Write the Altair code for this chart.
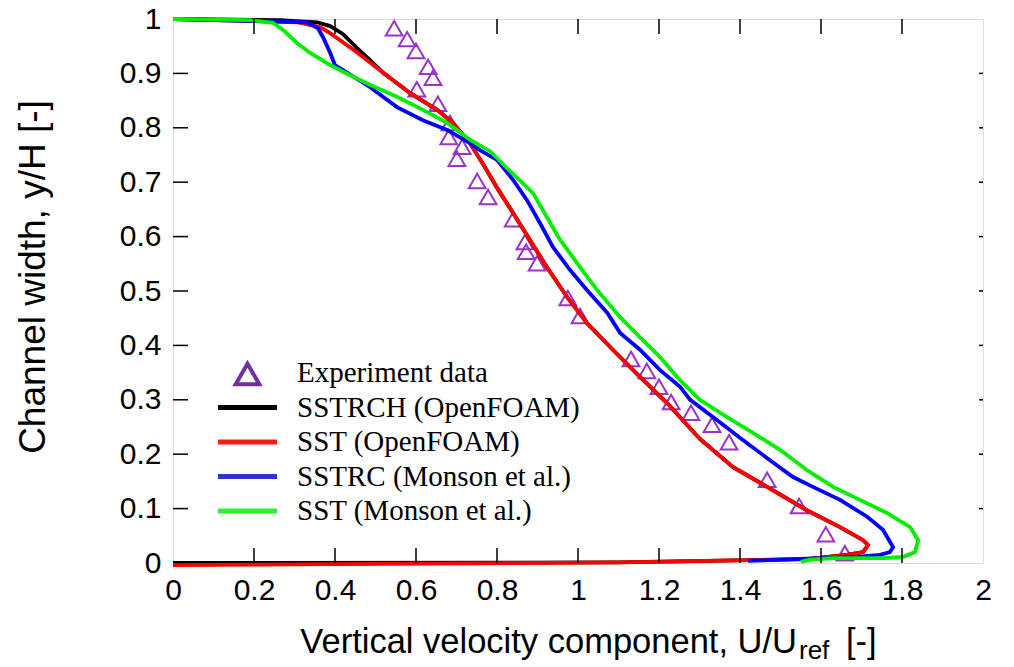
import altair as alt
import pandas as pd

# ---------------- data ----------------
exp_x = [0.546, 0.578, 0.600, 0.630, 0.642, 0.602, 0.654, 0.684, 0.681, 0.714, 0.701,
         0.751, 0.778, 0.840, 0.869, 0.872, 0.899, 0.975, 1.005, 1.131, 1.170, 1.200,
         1.230, 1.279, 1.331, 1.373, 1.467, 1.546, 1.612, 1.659]
exp_y = [0.983, 0.963, 0.941, 0.912, 0.892, 0.871, 0.844, 0.809, 0.783, 0.765, 0.743,
         0.702, 0.673, 0.632, 0.590, 0.572, 0.551, 0.487, 0.454, 0.375, 0.353, 0.324,
         0.296, 0.276, 0.254, 0.222, 0.153, 0.105, 0.053, 0.018]

sst_of_x = [0.0, 0.306, 0.363, 0.388, 0.454, 0.519, 0.585, 0.652, 0.691, 0.733, 0.770,
            0.800, 0.840, 0.881, 0.923, 0.973, 1.022, 1.086, 1.153, 1.220, 1.301,
            1.383, 1.467, 1.565, 1.647, 1.704, 1.716, 1.704, 1.664, 1.565, 1.10, 0.0]
sst_of_y = [1.0, 0.994, 0.985, 0.974, 0.939, 0.901, 0.864, 0.833, 0.809, 0.772, 0.728,
            0.690, 0.643, 0.594, 0.544, 0.489, 0.441, 0.392, 0.342, 0.294, 0.228,
            0.176, 0.140, 0.097, 0.066, 0.042, 0.033, 0.020, 0.015, 0.007, 0.001, -0.004]

sstrch_x = [0.0, 0.264, 0.356, 0.388, 0.420, 0.454, 0.486, 0.519, 0.585, 0.652, 0.691,
            0.733, 0.770, 0.800, 0.840, 0.881, 0.923, 0.973, 1.022, 1.086, 1.153, 1.220,
            1.301, 1.383, 1.467, 1.565, 1.647, 1.704, 1.716, 1.704, 1.664, 1.565,
            1.10, 0.0]
sstrch_y = [1.0, 0.998, 0.994, 0.987, 0.972, 0.947, 0.925, 0.901, 0.864, 0.833, 0.809,
            0.772, 0.728, 0.690, 0.643, 0.594, 0.544, 0.489, 0.441, 0.392, 0.342, 0.294,
            0.228, 0.176, 0.140, 0.097, 0.066, 0.042, 0.033, 0.020, 0.015, 0.007,
            0.001, 0.0]

sstrc_x = [0.0, 0.331, 0.358, 0.370, 0.388, 0.400, 0.420, 0.486, 0.553, 0.617, 0.677,
           0.733, 0.758, 0.800, 0.840, 0.874, 0.906, 0.938, 0.980, 1.022, 1.072, 1.104,
           1.153, 1.202, 1.252, 1.277, 1.343, 1.407, 1.474, 1.531, 1.580, 1.647, 1.714,
           1.753, 1.778, 1.770, 1.746, 1.689, 1.598, 1.42]
sstrc_y = [1.0, 0.994, 0.983, 0.967, 0.938, 0.915, 0.906, 0.875, 0.838, 0.814, 0.796,
           0.772, 0.759, 0.741, 0.704, 0.667, 0.625, 0.581, 0.539, 0.502, 0.460, 0.423,
           0.392, 0.355, 0.324, 0.300, 0.263, 0.226, 0.189, 0.158, 0.140, 0.116, 0.085,
           0.061, 0.029, 0.020, 0.015, 0.011, 0.009, 0.004]

sst_mo_x = [0.0, 0.190, 0.247, 0.272, 0.306, 0.338, 0.380, 0.420, 0.486, 0.553, 0.617,
            0.677, 0.733, 0.783, 0.830, 0.889, 0.923, 0.956, 1.005, 1.047, 1.104, 1.153,
            1.202, 1.252, 1.301, 1.368, 1.432, 1.499, 1.565, 1.630, 1.696, 1.763, 1.820,
            1.840, 1.832, 1.802, 1.753, 1.630, 1.573, 1.55]
sst_mo_y = [1.0, 0.998, 0.993, 0.980, 0.956, 0.938, 0.919, 0.903, 0.879, 0.857, 0.833,
            0.809, 0.778, 0.757, 0.722, 0.680, 0.636, 0.594, 0.544, 0.502, 0.452, 0.415,
            0.379, 0.336, 0.300, 0.268, 0.239, 0.208, 0.171, 0.140, 0.116, 0.092, 0.066,
            0.042, 0.020, 0.011, 0.009, 0.009, 0.006, 0.002]

x_ticks = [0, 0.2, 0.4, 0.6, 0.8, 1, 1.2, 1.4, 1.6, 1.8, 2]
y_ticks = [0, 0.1, 0.2, 0.3, 0.4, 0.5, 0.6, 0.7, 0.8, 0.9, 1]

legend_labels = ["Experiment data", "SSTRCH (OpenFOAM)", "SST (OpenFOAM)",
                 "SSTRC (Monson et al.)", "SST (Monson et al.)"]
line_colors = ["#000000", "#ff0000", "#0000ff", "#00ee00"]
legend_line_colors = ["#000000", "#ff1a1a", "#3333cc", "#33ee33"]

# ---------------- chart ----------------
W, H = 810, 544
SANS = "Liberation Sans"
SERIF = "Liberation Serif"

xs = alt.Scale(domain=[0, 2], nice=False, zero=False)
ys = alt.Scale(domain=[0, 1], nice=False, zero=False)
xa = alt.Axis(values=x_ticks, format="~g", title=None, ticks=False, domain=False, grid=False,
              labelFont=SANS, labelFontSize=30, labelColor="black", labelPadding=12,
              labelFlush=False, labelOverlap=False)
ya = alt.Axis(values=y_ticks, format="~g", title=None, ticks=False, domain=False, grid=False,
              labelFont=SANS, labelFontSize=30, labelColor="black", labelPadding=12,
              labelFlush=False, labelOverlap=False)

exp_df = pd.DataFrame({"x": exp_x, "y": exp_y})
points = alt.Chart(exp_df).mark_point(
    shape="triangle-up", filled=False, size=280, strokeWidth=2, color="#9933cc", opacity=1
).encode(x=alt.X("x:Q", scale=xs, axis=xa), y=alt.Y("y:Q", scale=ys, axis=ya))

series = [(sstrch_x, sstrch_y), (sst_of_x, sst_of_y), (sstrc_x, sstrc_y), (sst_mo_x, sst_mo_y)]
lines = []
for (sx, sy), col in zip(series, line_colors):
    df = pd.DataFrame({"x": sx, "y": sy, "i": list(range(len(sx)))})
    lines.append(
        alt.Chart(df).mark_line(color=col, strokeWidth=3.8, clip=False).encode(
            x=alt.X("x:Q", scale=xs, axis=xa),
            y=alt.Y("y:Q", scale=ys, axis=ya),
            order=alt.Order("i:Q"),
        )
    )

xt_df = pd.DataFrame({"x": x_ticks[1:-1]})
yt_df = pd.DataFrame({"y": y_ticks[1:-1]})
tick_style = dict(color="black", strokeWidth=1.5)
ticks_bottom = alt.Chart(xt_df).mark_rule(**tick_style).encode(
    x=alt.X("x:Q", scale=xs, axis=xa), y=alt.value(H), y2=alt.value(H - 15))
ticks_top = alt.Chart(xt_df).mark_rule(**tick_style).encode(
    x=alt.X("x:Q", scale=xs, axis=xa), y=alt.value(0), y2=alt.value(15))
ticks_left = alt.Chart(yt_df).mark_rule(**tick_style).encode(
    y=alt.Y("y:Q", scale=ys, axis=ya), x=alt.value(0), x2=alt.value(15))
ticks_right = alt.Chart(yt_df).mark_rule(**tick_style).encode(
    y=alt.Y("y:Q", scale=ys, axis=ya), x=alt.value(W), x2=alt.value(W - 4))

# legend (drawn manually, gnuplot style)
lx0, lx1, ltx, ly0, ldy = 45, 104, 124, 354, 34.5
one = pd.DataFrame({"a": [0]})
legend_layers = [
    alt.Chart(one).mark_point(shape="triangle-up", filled=False, size=560, strokeWidth=4,
                              color="#7030a0", opacity=1).encode(
        x=alt.value((lx0 + lx1) / 2), y=alt.value(ly0 + 1))
]
for k, col in enumerate(legend_line_colors):
    yy = ly0 + ldy * (k + 1)
    legend_layers.append(
        alt.Chart(one).mark_rule(color=col, strokeWidth=5).encode(
            x=alt.value(lx0), x2=alt.value(lx1), y=alt.value(yy)))
for k, lab in enumerate(legend_labels):
    yy = ly0 + ldy * k
    legend_layers.append(
        alt.Chart(pd.DataFrame({"t": [lab]})).mark_text(
            font=SERIF, fontSize=29, align="left", baseline="middle", color="black").encode(
            text="t:N", x=alt.value(ltx), y=alt.value(yy)))

# axis titles as text (with subscript)
titles = [
    alt.Chart(pd.DataFrame({"t": ["Vertical velocity component, U/U"]})).mark_text(
        font=SANS, fontSize=34.5, align="right", baseline="alphabetic", color="black").encode(
        text="t:N", x=alt.value(624), y=alt.value(634)),
    alt.Chart(pd.DataFrame({"t": ["ref"]})).mark_text(
        font=SANS, fontSize=26, align="left", baseline="alphabetic", color="black").encode(
        text="t:N", x=alt.value(626), y=alt.value(640)),
    alt.Chart(pd.DataFrame({"t": ["[-]"]})).mark_text(
        font=SANS, fontSize=34.5, align="left", baseline="alphabetic", color="black").encode(
        text="t:N", x=alt.value(673), y=alt.value(634)),
    alt.Chart(pd.DataFrame({"t": ["Channel width, y/H  [-]"]})).mark_text(
        font=SANS, fontSize=37, align="center", baseline="middle", angle=270, color="black").encode(
        text="t:N", x=alt.value(-139), y=alt.value(258)),
]

chart = alt.layer(
    points, *lines, ticks_bottom, ticks_top, ticks_left, ticks_right, *legend_layers, *titles
).properties(
    width=W, height=H,
    autosize=alt.AutoSizeParams(type="none"),
    padding={"left": 165, "top": 11, "right": 20, "bottom": 100},
).configure_view(
    stroke="black", strokeWidth=2.2, fill="white"
).configure(background="white")

chart.save("out.html", embed_options={"renderer": "svg", "actions": False})
